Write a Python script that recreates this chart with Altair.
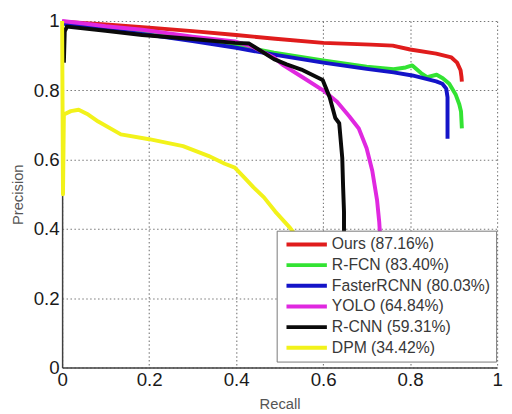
import altair as alt
import pandas as pd

methods = ["Ours (87.16%)", "R-FCN (83.40%)", "FasterRCNN (80.03%)",
           "YOLO (64.84%)", "R-CNN (59.31%)", "DPM (34.42%)"]
colors = ["#e01c1c", "#33e333", "#1414c8", "#e028e0", "#0a0a0a", "#f2f21a"]

ours_x = [0.0, 0.1, 0.2, 0.3, 0.4, 0.49, 0.6, 0.71, 0.76, 0.8, 0.86, 0.895, 0.908, 0.916, 0.918, 0.919]
ours_y = [0.998, 0.99, 0.981, 0.971, 0.96, 0.949, 0.937, 0.932, 0.929, 0.918, 0.906, 0.895, 0.88, 0.858, 0.84, 0.825]

rfcn_x = [0.0, 0.1, 0.2, 0.3, 0.4, 0.487, 0.6, 0.7, 0.762, 0.79, 0.805, 0.825, 0.839, 0.861, 0.875, 0.89, 0.905, 0.913, 0.917, 0.919]
rfcn_y = [0.995, 0.98, 0.965, 0.948, 0.93, 0.909, 0.886, 0.868, 0.861, 0.866, 0.872, 0.85, 0.838, 0.845, 0.835, 0.819, 0.787, 0.76, 0.739, 0.69]

frcnn_x = [0.0, 0.1, 0.2, 0.3, 0.4, 0.487, 0.6, 0.7, 0.762, 0.805, 0.86, 0.874, 0.883, 0.886, 0.886, 0.886]
frcnn_y = [0.993, 0.976, 0.96, 0.942, 0.923, 0.903, 0.88, 0.862, 0.852, 0.843, 0.826, 0.819, 0.805, 0.78, 0.72, 0.66]

yolo_x = [0.0, 0.05, 0.1, 0.184, 0.3, 0.397, 0.435, 0.487, 0.509, 0.55, 0.6, 0.632, 0.66, 0.682, 0.7, 0.713, 0.724, 0.729, 0.731]
yolo_y = [1.0, 0.993, 0.985, 0.975, 0.955, 0.941, 0.927, 0.895, 0.872, 0.84, 0.80, 0.767, 0.725, 0.69, 0.633, 0.568, 0.483, 0.42, 0.38]

rcnn_x = [0.004, 0.006, 0.011, 0.1, 0.184, 0.3, 0.397, 0.43, 0.487, 0.516, 0.55, 0.599, 0.615, 0.628, 0.637, 0.644, 0.646, 0.648, 0.648]
rcnn_y = [0.88, 0.97, 0.984, 0.972, 0.96, 0.948, 0.937, 0.935, 0.89, 0.875, 0.86, 0.83, 0.78, 0.72, 0.705, 0.605, 0.52, 0.45, 0.38]

dpm_x = [0.0, 0.002, 0.004, 0.02, 0.038, 0.06, 0.083, 0.135, 0.2, 0.278, 0.336, 0.374, 0.397, 0.419, 0.44, 0.464, 0.49, 0.524, 0.55]
dpm_y = [1.0, 0.5, 0.73, 0.74, 0.744, 0.73, 0.71, 0.673, 0.659, 0.639, 0.611, 0.588, 0.577, 0.548, 0.52, 0.491, 0.45, 0.403, 0.36]

all_x = [ours_x, rfcn_x, frcnn_x, yolo_x, rcnn_x, dpm_x]
all_y = [ours_y, rfcn_y, frcnn_y, yolo_y, rcnn_y, dpm_y]

tick_values = [0, 0.2, 0.4, 0.6, 0.8, 1]

rows = []
for name, xs, ys in zip(methods, all_x, all_y):
    for i, (a, b) in enumerate(zip(xs, ys)):
        rows.append({"method": name, "recall": a, "precision": b, "i": i})
df = pd.DataFrame(rows)

FONT = "Liberation Sans"

chart = alt.Chart(df).mark_line(strokeWidth=4, strokeJoin="round").encode(
    x=alt.X("recall:Q", scale=alt.Scale(domain=[0, 1], nice=False),
            axis=alt.Axis(values=tick_values, format="~g", title="Recall",
                          titlePadding=8, labelFlush=False)),
    y=alt.Y("precision:Q", scale=alt.Scale(domain=[0, 1], nice=False),
            axis=alt.Axis(values=tick_values, format="~g", title="Precision",
                          titlePadding=8, labelFlush=False)),
    color=alt.Color("method:N", sort=methods,
                    scale=alt.Scale(domain=methods, range=colors),
                    legend=alt.Legend(title=None, orient="none", legendX=218, legendY=213,
                                      symbolType="M-0.67,0H6.17", symbolSize=144,
                                      symbolStrokeWidth=4, labelFontSize=16,
                                      labelFont=FONT, labelColor="#383838",
                                      labelOffset=34, rowPadding=5, padding=6,
                                      strokeColor="#777777", fillColor="white",
                                      labelLimit=400)),
    order="i:Q",
).properties(
    width=442, height=352,
    autosize=alt.AutoSizeParams(type="none"),
    padding={"left": 55, "top": 10, "right": 7, "bottom": 44},
).configure_view(stroke=None).configure_axis(
    grid=True, gridDash=[1.5, 2.5], gridColor="#777777", gridWidth=1.1, gridOpacity=1,
    domainColor="#404040", domainWidth=1.5, ticks=False,
    labelFont=FONT, labelFontSize=19, labelColor="#1a1a1a", labelPadding=3,
    titleFont=FONT, titleFontSize=15, titleFontWeight="normal", titleColor="#555555",
)

chart.save("out.html", embed_options={"renderer": "svg", "actions": False})
